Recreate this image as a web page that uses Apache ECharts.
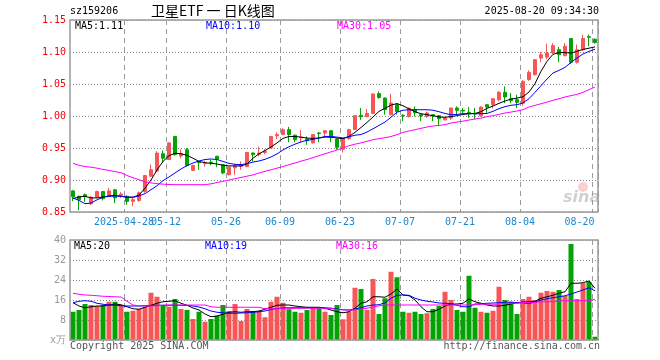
<!DOCTYPE html>
<html><head><meta charset="utf-8">
<script src="https://cdn.jsdelivr.net/npm/echarts@6.0.0/dist/echarts.min.js"></script>
<style>html,body{margin:0;padding:0;background:#fff}#c{width:660px;height:360px}</style>
</head><body><div id="c"></div>
<script>
// ---- data ----
const dates = [
'2025-04-15','2025-04-16','2025-04-17','2025-04-18','2025-04-21','2025-04-22','2025-04-23','2025-04-24','2025-04-25','2025-04-28','2025-04-29','2025-04-30',
'2025-05-06','2025-05-07','2025-05-08','2025-05-09','2025-05-12','2025-05-13','2025-05-14','2025-05-15','2025-05-16','2025-05-19','2025-05-20','2025-05-21','2025-05-22','2025-05-23','2025-05-26','2025-05-27','2025-05-28','2025-05-29','2025-05-30',
'2025-06-03','2025-06-04','2025-06-05','2025-06-06','2025-06-09','2025-06-10','2025-06-11','2025-06-12','2025-06-13','2025-06-16','2025-06-17','2025-06-18','2025-06-19','2025-06-20','2025-06-23','2025-06-24','2025-06-25','2025-06-26','2025-06-27','2025-06-30',
'2025-07-01','2025-07-02','2025-07-03','2025-07-04','2025-07-07','2025-07-08','2025-07-09','2025-07-10','2025-07-11','2025-07-14','2025-07-15','2025-07-16','2025-07-17','2025-07-18','2025-07-21','2025-07-22','2025-07-23','2025-07-24','2025-07-25','2025-07-28','2025-07-29','2025-07-30','2025-07-31',
'2025-08-01','2025-08-04','2025-08-05','2025-08-06','2025-08-07','2025-08-08','2025-08-11','2025-08-12','2025-08-13','2025-08-14','2025-08-15','2025-08-18','2025-08-19','2025-08-20'];

const open = [0.883,0.8745,0.877,0.863,0.8735,0.882,0.8745,0.8847,0.876,0.8744,
0.8667,0.868,0.882,0.906,0.914,0.941,0.932,0.968,0.9375,0.9473,
0.915,0.9285,0.926,0.928,0.937,0.924,0.9083,0.919,0.921,0.921,
0.9422,0.940,0.943,0.950,0.969,0.971,0.9786,0.970,0.966,0.964,
0.958,0.9735,0.9735,0.977,0.964,0.948,0.9646,0.979,1.001,0.999,
1.004,1.035,1.028,1.002,1.018,1.001,0.999,1.010,1.002,0.9994,
1.002,1.0005,0.994,0.9968,1.0125,1.009,1.0057,1.004,1.0005,1.0177,
1.0177,1.0255,1.037,1.027,1.0255,1.020,1.0568,1.0646,1.0906,1.092,
1.0984,1.1036,1.0943,1.121,1.084,1.1036,1.124,1.120];
const close = [0.874,0.869,0.874,0.873,0.882,0.871,0.883,0.872,0.878,0.8666,
0.8692,0.880,0.907,0.916,0.942,0.934,0.958,0.9395,0.9415,0.9228,
0.9225,0.927,0.9275,0.927,0.933,0.911,0.920,0.922,0.923,0.943,
0.9395,0.942,0.945,0.968,0.971,0.9786,0.971,0.963,0.967,0.9614,
0.971,0.9725,0.977,0.966,0.951,0.965,0.9786,1.0005,0.999,1.004,
1.0345,1.029,1.010,1.0203,1.007,1.000,1.0125,1.005,1.000,1.0047,
1.000,0.9957,0.997,1.0125,1.0088,1.0078,1.0036,1.003,1.014,1.014,
1.027,1.037,1.0297,1.024,1.0213,1.054,1.0682,1.088,1.0958,1.0984,
1.110,1.0958,1.109,1.084,1.1036,1.121,1.123,1.115];
const low = [0.867,0.853,0.866,0.861,0.872,0.868,0.873,0.864,0.872,0.8614,
0.859,0.866,0.880,0.905,0.912,0.927,0.931,0.938,0.934,0.921,
0.914,0.916,0.921,0.923,0.920,0.909,0.907,0.908,0.916,0.920,
0.929,0.937,0.940,0.949,0.964,0.970,0.959,0.959,0.959,0.955,
0.957,0.959,0.968,0.959,0.947,0.943,0.963,0.978,0.994,0.998,
1.003,1.027,1.002,1.001,1.002,0.992,0.998,0.999,0.992,0.997,
0.992,0.984,0.993,0.994,1.002,1.002,0.997,0.995,0.999,1.005,
1.012,1.023,1.020,1.020,1.0125,1.016,1.055,1.063,1.084,1.089,
1.097,1.084,1.093,1.081,1.082,1.102,1.109,1.113];
const high = [0.884,0.8755,0.879,0.875,0.8835,0.883,0.8875,0.886,0.881,0.876,
0.872,0.882,0.908,0.924,0.945,0.946,0.959,0.969,0.948,0.950,
0.924,0.930,0.930,0.931,0.938,0.925,0.921,0.925,0.929,0.944,
0.943,0.9525,0.948,0.969,0.9744,0.981,0.983,0.971,0.978,0.968,
0.972,0.975,0.978,0.978,0.965,0.966,0.980,1.001,1.0125,1.011,
1.035,1.0384,1.029,1.0345,1.019,1.003,1.013,1.015,1.003,1.007,
1.003,1.001,0.998,1.013,1.015,1.0125,1.014,1.0125,1.015,1.018,
1.028,1.039,1.0463,1.036,1.0333,1.056,1.0713,1.089,1.100,1.113,
1.114,1.108,1.114,1.122,1.1115,1.127,1.127,1.121];

const ma5 = [0.871,0.8735,0.8745,0.872,0.872,0.8735,0.875,0.876,0.8745,0.873,
0.873,0.8765,0.8873,0.900,0.9158,0.929,0.938,0.9418,0.941,0.9385,
0.934,0.929,0.927,0.926,0.925,0.923,0.922,0.922,0.922,0.925,
0.934,0.941,0.946,0.9516,0.958,0.965,0.968,0.968,0.967,0.9656,
0.965,0.9656,0.967,0.967,0.9656,0.9646,0.968,0.9745,0.982,0.990,
0.9985,1.0072,1.012,1.017,1.0195,1.016,1.011,1.0067,1.0036,1.002,
1.0005,0.9985,0.998,0.999,1.0005,1.0025,1.0036,1.004,1.0067,1.012,
1.0156,1.0198,1.0234,1.0265,1.028,1.030,1.0375,1.0505,1.070,1.0854,
1.0964,1.099,1.099,1.0984,1.101,1.104,1.106,1.108];
const ma10 = [0.872,0.868,0.863,0.864,0.869,0.873,0.8745,0.875,0.8745,0.8735,
0.873,0.875,0.8786,0.8848,0.891,0.899,0.9047,0.911,0.9172,0.9224,
0.9266,0.9297,0.932,0.9328,0.932,0.929,0.926,0.9245,0.924,0.9255,
0.928,0.9297,0.9323,0.936,0.9407,0.947,0.952,0.956,0.9594,0.962,
0.9635,0.9656,0.968,0.968,0.967,0.9656,0.9675,0.970,0.971,0.975,
0.980,0.9853,0.9906,0.998,1.006,1.009,1.0098,1.0098,1.0098,1.0098,
1.009,1.0067,1.004,1.002,1.0025,1.0036,1.0036,1.0036,1.0036,1.004,
1.0073,1.0115,1.0146,1.0167,1.0177,1.0203,1.027,1.037,1.0474,1.0578,
1.0672,1.0713,1.076,1.0838,1.0906,1.0969,1.101,1.1042];
const ma30 = [0.926,0.923,0.921,0.920,0.9185,0.9165,0.915,0.913,0.9115,0.907,
0.9035,0.9005,0.897,0.8955,0.8943,0.8935,0.893,0.8927,0.8927,0.8927,
0.8927,0.8927,0.8927,0.894,0.896,0.898,0.900,0.902,0.904,0.906,
0.908,0.911,0.9135,0.916,0.9185,0.921,0.924,0.9265,0.9295,0.932,
0.935,0.938,0.941,0.944,0.947,0.950,0.9535,0.956,0.958,0.9604,
0.963,0.9646,0.966,0.968,0.9708,0.9744,0.9765,0.9786,0.9807,0.9828,
0.9843,0.9854,0.9864,0.989,0.9906,0.992,0.9937,0.9953,0.9968,0.999,
1.0005,1.0026,1.0047,1.0062,1.0078,1.0099,1.014,1.0166,1.0192,1.0218,
1.0245,1.027,1.0297,1.0318,1.0338,1.037,1.0411,1.0453];

const volume = [11.3,12.0,14.4,14.0,13.6,14.0,15.3,15.3,14.0,11.3,
11.7,12.4,13.3,18.9,17.3,14.0,13.3,16.4,12.4,12.0,
8.4,11.3,7.3,8.4,9.7,14.0,11.6,14.4,7.6,12.4,
11.6,11.6,9.1,15.3,17.3,14.9,12.3,11.3,10.9,12.0,
13.1,13.1,11.3,10.0,14.0,8.3,11.3,20.9,20.4,12.0,
24.4,10.4,16.7,27.3,25.1,11.3,10.9,11.3,10.4,10.7,
12.4,13.6,19.3,16.0,12.0,11.3,25.7,12.9,11.3,10.9,
11.7,21.3,16.0,15.3,10.4,16.4,17.3,16.0,18.9,19.6,
19.3,20.0,17.6,38.4,16.4,22.7,23.3,1.3];
const volMa5 = [14.9,13.6,12.9,13.3,13.6,13.6,14.0,14.4,14.1,13.3,
12.5,12.3,13.1,13.9,14.7,15.3,15.5,15.7,14.7,13.9,
12.8,12.0,10.4,9.3,9.6,10.3,11.1,11.3,11.1,11.3,
11.3,11.6,12.3,13.1,13.9,14.0,14.0,13.6,13.3,13.1,
13.1,13.1,12.7,12.0,11.3,10.9,11.3,12.7,14.7,15.3,
17.3,17.3,17.1,18.4,20.4,18.0,17.7,16.0,13.3,11.3,
11.3,12.3,13.6,14.4,14.4,14.7,16.4,15.3,14.7,14.0,
13.6,13.6,13.9,14.4,14.9,15.2,15.3,15.5,16.7,17.3,
17.9,18.7,19.3,22.7,22.7,22.9,23.6,20.7];
const volMa10 = [14.9,15.5,15.7,15.5,14.7,14.3,14.0,13.9,13.7,13.6,
13.6,13.6,13.7,13.8,13.9,13.9,13.9,13.9,13.9,13.8,
13.6,13.2,12.5,11.6,11.1,10.9,10.7,10.7,10.8,10.9,
11.1,11.3,11.6,12.2,12.6,12.8,12.9,12.9,12.9,12.9,
13.0,13.0,12.9,12.7,12.4,12.1,12.0,12.4,12.9,13.6,
14.0,14.1,14.9,16.7,17.9,18.0,17.9,16.7,16.0,15.5,
15.2,14.8,14.7,14.5,13.9,13.3,13.3,14.4,14.5,14.7,
14.8,14.9,15.1,15.1,14.9,14.9,14.5,15.2,16.0,16.5,
16.9,17.3,17.7,18.4,19.2,20.0,20.9,19.7];
const volMa30 = [18.7,18.3,18.0,17.9,17.7,17.5,17.4,17.3,17.2,15.5,
14.0,13.7,13.6,13.6,13.7,13.9,14.0,14.0,14.0,14.0,
14.0,14.0,14.0,13.3,13.1,13.1,13.1,13.1,13.1,13.1,
13.1,13.1,12.5,12.5,12.5,12.5,12.5,12.7,12.7,12.7,
12.7,12.7,12.7,12.7,12.1,12.1,12.0,12.1,12.4,12.7,
13.2,13.7,14.0,14.0,14.0,14.0,14.0,14.0,14.0,14.0,
14.0,14.0,14.0,14.0,14.0,14.0,14.0,14.1,14.3,14.3,
14.3,14.3,14.7,14.7,14.7,15.0,15.0,15.0,15.3,15.3,
15.3,15.7,15.7,15.7,15.7,15.7,15.7,16.3];

const tickDates = ['2025-04-28','2025-05-12','2025-05-26','2025-06-09','2025-06-23','2025-07-07','2025-07-21','2025-08-04','2025-08-20'];
const tickLabels = ['2025-04-28','05-12','05-26','06-09','06-23','07-07','07-21','08-04','08-20'];

const code = 'sz159206';
const titleText = '卫星ETF 一 日K线图';
const stamp = '2025-08-20 09:34:30';

// ---- chart ----
const MONO = 'DejaVu Sans Mono';
const UP = '#f65656', DOWN = '#03a303';
const C_MA5 = '#000000', C_MA10 = '#0000ff', C_MA30 = '#ff00ff';
const tickIdx = tickDates.map(d => dates.indexOf(d));
const isTick = i => tickIdx.indexOf(i) >= 0;
const last = a => a[a.length - 1];

const G0 = {left: 70, top: 20, width: 528, height: 192};
const G1 = {left: 70, top: 240, width: 528, height: 100};

const chart = echarts.init(document.getElementById('c'), null, {renderer: 'canvas'});

const xBase = (gi, showLabel) => ({
  type: 'category', gridIndex: gi, data: dates, boundaryGap: true,
  axisLine: {show: false},
  axisTick: {show: false, interval: (i) => isTick(i)},
  axisLabel: showLabel ? {
    show: true, interval: 0, margin: 5, hideOverlap: false,
    formatter: (v) => {
      const k = tickDates.indexOf(v);
      if (k < 0) return '';
      return (k === tickDates.length - 1 ? '{b|' : '{a|') + tickLabels[k] + '}';
    },
    rich: {
      a: {fontFamily: MONO, fontSize: 10, color: '#1a88d0', padding: [0, 6, 0, 0]},
      b: {fontFamily: MONO, fontSize: 10, color: '#1a88d0', padding: [0, 31, 0, 0]}
    },
    color: '#1a88d0', fontFamily: MONO, fontSize: 10
  } : {show: false},
  splitLine: {show: true, interval: (i) => isTick(i), lineStyle: {color: '#9a9a9a', type: [5, 4], width: 1}},
  z: 2
});

const legendText = (x, y, txt, color) => ({
  type: 'text', left: x, top: y,
  style: {text: txt, fill: color, font: '10px "' + MONO + '"'}, z: 100
});
const frame = (g) => ({
  type: 'rect', shape: {x: g.left, y: g.top, width: g.width, height: g.height},
  style: {fill: 'none', stroke: '#9a9a9a', lineWidth: 1.5}, z: 50, silent: true
});

const option = {
  animation: false,
  backgroundColor: '#ffffff',
  grid: [Object.assign({}, G0), Object.assign({}, G1)],
  xAxis: [xBase(0, true), xBase(1, false)],
  yAxis: [
    {type: 'value', gridIndex: 0, min: 0.85, max: 1.15, interval: 0.05,
     axisLine: {show: false}, axisTick: {show: false},
     axisLabel: {color: '#ff0000', fontFamily: MONO, fontSize: 10, margin: 4, formatter: v => v.toFixed(2)},
     splitLine: {show: true, lineStyle: {color: '#8a8a8a', type: [1, 2], width: 1}}, z: 2},
    {type: 'value', gridIndex: 1, min: 0, max: 40, interval: 8,
     axisLine: {show: false}, axisTick: {show: false},
     axisLabel: {color: '#999', fontFamily: MONO, fontSize: 10, margin: 4,
       formatter: v => v === 0 ? 'x万' : String(v)},
     splitLine: {show: true, lineStyle: {color: '#8a8a8a', type: [1, 2], width: 1}}, z: 2}
  ],
  series: [
    {type: 'candlestick', xAxisIndex: 0, yAxisIndex: 0, barWidth: 4,
     data: dates.map((d, i) => [open[i], close[i], low[i], high[i]]),
     itemStyle: {color: UP, color0: DOWN, borderColor: UP, borderColor0: DOWN, borderWidth: 1}},
    {type: 'line', xAxisIndex: 0, yAxisIndex: 0, data: ma5, symbol: 'none', lineStyle: {color: C_MA5, width: 1}, z: 5},
    {type: 'line', xAxisIndex: 0, yAxisIndex: 0, data: ma10, symbol: 'none', lineStyle: {color: C_MA10, width: 1}, z: 5},
    {type: 'line', xAxisIndex: 0, yAxisIndex: 0, data: ma30, symbol: 'none', lineStyle: {color: C_MA30, width: 1}, z: 5},
    {type: 'bar', xAxisIndex: 1, yAxisIndex: 1, barWidth: 5, data: volume,
     itemStyle: {color: p => close[p.dataIndex] >= open[p.dataIndex] ? UP : DOWN}},
    {type: 'line', xAxisIndex: 1, yAxisIndex: 1, data: volMa5, symbol: 'none', lineStyle: {color: C_MA5, width: 1}, z: 5},
    {type: 'line', xAxisIndex: 1, yAxisIndex: 1, data: volMa10, symbol: 'none', lineStyle: {color: C_MA10, width: 1}, z: 5},
    {type: 'line', xAxisIndex: 1, yAxisIndex: 1, data: volMa30, symbol: 'none', lineStyle: {color: C_MA30, width: 1}, z: 5}
  ],
  graphic: [
    frame(G0), frame(G1),
    {type: 'text', left: 70, top: 6, style: {text: code, fill: '#000', font: '10px "' + MONO + '"'}},
    {type: 'text', left: 151, top: 4, style: {text: titleText, fill: '#000', font: '14px "Noto Sans CJK SC"'}},
    {type: 'text', right: 61, top: 6, style: {text: stamp, fill: '#000', font: '10px "' + MONO + '"'}},
    legendText(75, 21, 'MA5:' + last(ma5).toFixed(2), C_MA5),
    legendText(206, 21, 'MA10:' + last(ma10).toFixed(2), C_MA10),
    legendText(337, 21, 'MA30:' + last(ma30).toFixed(2), C_MA30),
    legendText(74, 241, 'MA5:' + Math.floor(last(volMa5)), C_MA5),
    legendText(205, 241, 'MA10:' + Math.floor(last(volMa10)), C_MA10),
    legendText(336, 241, 'MA30:' + Math.floor(last(volMa30)), C_MA30),
    {type: 'text', left: 70, top: 341, style: {text: 'Copyright 2025 SINA.COM', fill: '#555', font: '10px "' + MONO + '"'}},
    {type: 'text', right: 60, top: 341, style: {text: 'http://finance.sina.com.cn', fill: '#555', font: '10px "' + MONO + '"'}},
    {type: 'circle', shape: {cx: 583, cy: 187, r: 5}, style: {fill: 'rgba(240,120,120,0.35)'}, z: 1},
    {type: 'text', left: 563, top: 190, style: {text: 'sina', fill: 'rgba(150,150,150,0.45)', font: 'italic bold 16px "DejaVu Sans"'}, z: 1}
  ]
};
chart.setOption(option);
</script>
</body></html>
